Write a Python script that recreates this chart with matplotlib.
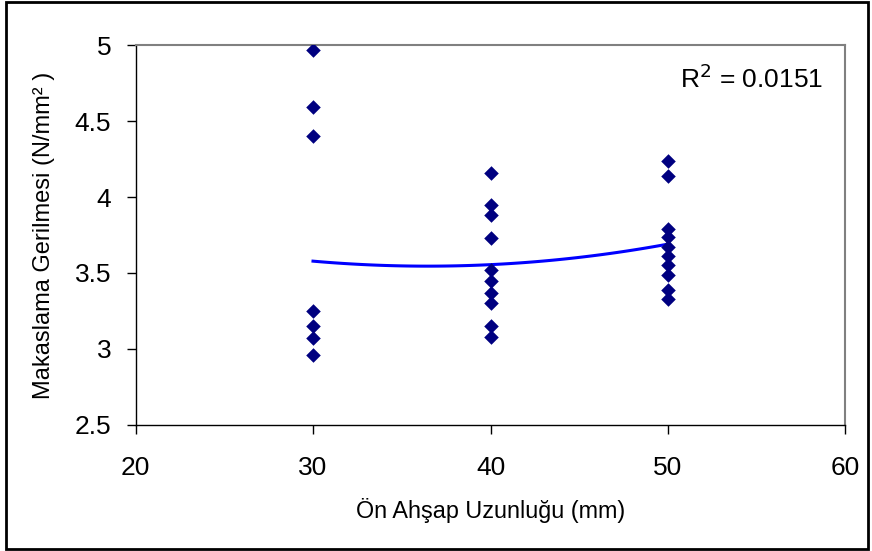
import numpy as np
import matplotlib
matplotlib.use("Agg")
import matplotlib.pyplot as plt
from matplotlib.patches import Rectangle

plt.rcParams['font.family'] = ['Liberation Sans', 'DejaVu Sans']

# measured shear stress per front wood length
x30 = [30] * 7
y30 = [4.97, 4.59, 4.40, 3.25, 3.15, 3.07, 2.96]
x40 = [40] * 10
y40 = [4.16, 3.95, 3.88, 3.73, 3.52, 3.45, 3.37, 3.30, 3.15, 3.08]
x50 = [50] * 10
y50 = [4.24, 4.14, 3.79, 3.74, 3.67, 3.61, 3.55, 3.49, 3.39, 3.33]

# polynomial trend line values
trend_x = [30, 40, 50]
trend_y = [3.578, 3.555, 3.69]
r2_text = "R$^2$ = 0.0151"

xs = np.array(x30 + x40 + x50)
ys = np.array(y30 + y40 + y50)

fig = plt.figure(figsize=(8.72, 5.51), dpi=100)
ax = fig.add_axes([0.1554, 0.2287, 0.8142, 0.6896])

ax.scatter(xs, ys, marker='D', s=55, color='#000080', zorder=3, linewidths=0)

coef = np.polyfit(trend_x, trend_y, 2)
tx = np.linspace(30, 50, 100)
ax.plot(tx, np.polyval(coef, tx), color='#0000ff', lw=2.2, zorder=2)

ax.set_xlim(20, 60)
ax.set_ylim(2.5, 5)
ax.set_xticks([20, 30, 40, 50, 60])
ax.set_yticks([2.5, 3, 3.5, 4, 4.5, 5])
ax.set_yticklabels(['2.5', '3', '3.5', '4', '4.5', '5'])
ax.tick_params(direction='out', length=6.5, width=1, labelsize=19)
ax.tick_params(axis='y', pad=11)
ax.tick_params(axis='x', pad=16)

for s in ['left', 'bottom']:
    ax.spines[s].set_color('black')
    ax.spines[s].set_linewidth(1)
for s in ['top', 'right']:
    ax.spines[s].set_color('#808080')
    ax.spines[s].set_linewidth(1.5)

ax.set_xlabel("Ön Ahşap Uzunluğu (mm)", fontsize=16.8, va='center', ha='center')
ax.xaxis.set_label_coords(0.5, -0.226)
ax.set_ylabel("Makaslama Gerilmesi (N/mm² )", fontsize=17, va='center', ha='center')
ax.yaxis.set_label_coords(-0.129, 0.5)

ax.text(0.968, 0.888, r2_text, transform=ax.transAxes, ha='right', va='baseline',
        fontsize=19)

fig.patches.append(Rectangle((0.007, 0.003), 0.988, 0.993, transform=fig.transFigure,
                             fill=False, edgecolor='black', lw=2))

fig.savefig("out.png", dpi=100)
